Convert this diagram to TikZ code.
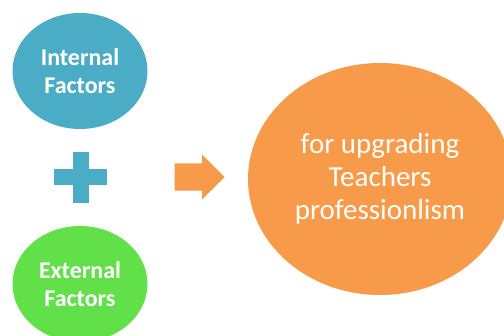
\documentclass[tikz,border=0pt]{standalone}
\usepackage{fontspec}
\setmainfont{Carlito}
\usepackage{tikz}
\usetikzlibrary{positioning, shapes.geometric, shapes.arrows}

\definecolor{factorblue}{HTML}{4BACC6}
\definecolor{factorgreen}{HTML}{61E04A}
\definecolor{goalorange}{HTML}{F79A4A}

\begin{document}
\begin{tikzpicture}[
    x=1pt, y=-1pt,
    % Base styles
    factorbox/.style={ellipse, fill=#1, inner sep=0pt, minimum width=135pt, minimum height=116pt,
        align=center, text=white, font=\bfseries\fontsize{24}{27.5}\selectfont},
    goalbox/.style={ellipse, fill=goalorange, inner sep=0pt, minimum width=264pt, minimum height=232pt,
        align=center, text=white, font=\fontsize{29}{33}\selectfont},
    % Block arrow
    blockarrow/.style={single arrow, fill=goalorange, inner xsep=0pt, inner ysep=13.5pt,
        minimum height=50pt, single arrow head extend=9pt},
]

% Frame of the picture
\clip (0,0) rectangle (504,336);

% Left column: the two factors
\node[factorbox=factorblue] (internal) at (80,71) {Internal\\Factors};
\node[factorbox=factorgreen] (external) at (80,284) {External\\Factors};

% Plus sign between them
\fill[factorblue] (73,152) rectangle (89,203);
\fill[factorblue] (54,169) rectangle (107,185);

% Arrow and result
\node[blockarrow, anchor=tip] (arrow) at (225,177) {};
\node[goalbox] (upgrading) at (380,179) {for upgrading\\Teachers\\professionlism};

\end{tikzpicture}
\end{document}
